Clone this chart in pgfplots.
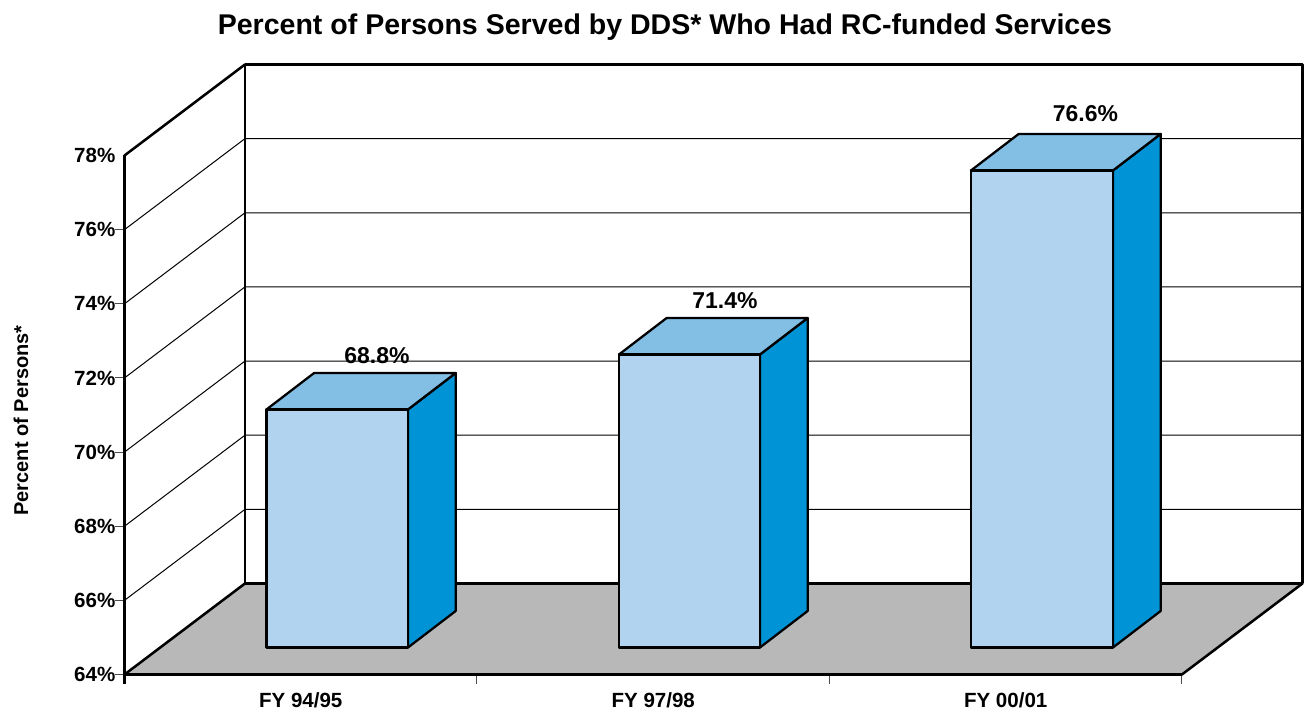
\documentclass[border=0pt]{standalone}
\usepackage{fontspec}
\setmainfont{Liberation Sans}
\usepackage{pgfplots}
\pgfplotsset{compat=1.18}
\definecolor{barfront}{HTML}{B2D3EF}
\definecolor{bartop}{HTML}{83BEE5}
\definecolor{barside}{HTML}{0094D6}
\definecolor{floorgray}{HTML}{B8B8B8}
\newcommand{\lab}[1]{\fontsize{#1}{#1}\selectfont\bfseries}
\begin{document}
\begin{tikzpicture}
\begin{axis}[
  scale only axis,
  width=793.1pt,
  height=389.25pt,
  xmin=0,xmax=3,
  ymin=64,ymax=78,
  clip=false,
  axis x line*=bottom,
  axis y line*=left,
  axis line style={line width=1.8pt},
  tick align=outside,
  major tick length=7pt,
  tick style={line width=0.75pt,color=black!70},
  xtick={0,1,2,3},
  xticklabels={},
  extra x ticks={0.5,1.5,2.5},
  extra x tick labels={FY 94/95,FY 97/98,FY 00/01},
  extra x tick style={major tick length=0pt,tick label style={font=\lab{15.4},yshift=-10pt}},
  ytick={64,66,68,70,72,74,76},
  yticklabels={64\%,66\%,68\%,70\%,72\%,74\%,76\%},
  extra y ticks={78},
  extra y tick labels={78\%},
  extra y tick style={major tick length=7pt,tick style={draw=none}},
  tick label style={font=\lab{15.4}},
  yticklabel style={inner sep=0pt,xshift=0.3pt},
  every axis plot/.append style={line join=round},
]
% back wall and left wall
\addplot[draw=black,line width=1.9pt,fill=white] coordinates {(0.3418,66.455) (0.3418,80.455) (3.3418,80.455) (3.3418,66.455)};
\addplot[draw=black,line width=1.9pt] coordinates {(0,78) (0.3418,80.455)};
% gridlines, left wall then back wall
\addplot[draw=black,line width=0.75pt] coordinates {(0,66) (0.3418,68.455) (3.3418,68.455)};
\addplot[draw=black,line width=0.75pt] coordinates {(0,68) (0.3418,70.455) (3.3418,70.455)};
\addplot[draw=black,line width=0.75pt] coordinates {(0,70) (0.3418,72.455) (3.3418,72.455)};
\addplot[draw=black,line width=0.75pt] coordinates {(0,72) (0.3418,74.455) (3.3418,74.455)};
\addplot[draw=black,line width=0.75pt] coordinates {(0,74) (0.3418,76.455) (3.3418,76.455)};
\addplot[draw=black,line width=0.75pt] coordinates {(0,76) (0.3418,78.455) (3.3418,78.455)};
% floor
\addplot[draw=black,line width=1.9pt,fill=floorgray] coordinates {(0,64) (3,64) (3.3418,66.455) (0.3418,66.455)} --cycle;
% the y axis runs on below the floor corner
\addplot[draw=black,line width=1.8pt] coordinates {(0,64) (0,63.75)};
% bar 1
\addplot[draw=black,line width=1.7pt,fill=barside] coordinates {(0.8043,64.728) (0.9396,65.713) (0.9396,72.134) (0.8043,71.149)} --cycle;
\addplot[draw=black,line width=1.7pt,fill=bartop] coordinates {(0.4028,71.149) (0.5381,72.134) (0.9396,72.134) (0.8043,71.149)} --cycle;
\addplot[draw=black,line width=1.9pt,fill=barfront] coordinates {(0.4028,64.728) (0.8043,64.728) (0.8043,71.149) (0.4028,71.149)} --cycle;
% bar 2
\addplot[draw=black,line width=1.7pt,fill=barside] coordinates {(1.8028,64.728) (1.9381,65.713) (1.9381,73.617) (1.8028,72.632)} --cycle;
\addplot[draw=black,line width=1.7pt,fill=bartop] coordinates {(1.4028,72.632) (1.5381,73.617) (1.9381,73.617) (1.8028,72.632)} --cycle;
\addplot[draw=black,line width=1.9pt,fill=barfront] coordinates {(1.4028,64.728) (1.8028,64.728) (1.8028,72.632) (1.4028,72.632)} --cycle;
% bar 3
\addplot[draw=black,line width=1.7pt,fill=barside] coordinates {(2.8043,64.728) (2.9396,65.713) (2.9396,78.581) (2.8043,77.596)} --cycle;
\addplot[draw=black,line width=1.7pt,fill=bartop] coordinates {(2.4014,77.596) (2.5367,78.581) (2.9396,78.581) (2.8043,77.596)} --cycle;
\addplot[draw=black,line width=1.9pt,fill=barfront] coordinates {(2.4014,64.728) (2.8043,64.728) (2.8043,77.596) (2.4014,77.596)} --cycle;
% value labels
\node[font=\lab{17.2},inner sep=0pt] at (axis cs:0.7163,72.605) {68.8\%};
\node[font=\lab{17.2},inner sep=0pt] at (axis cs:1.7035,74.089) {71.4\%};
\node[font=\lab{17.2},inner sep=0pt] at (axis cs:2.726,79.133) {76.6\%};
% title and y label
\node[font=\lab{21.4},inner sep=0pt] at (axis cs:1.5333,81.467) {Percent of Persons Served by DDS* Who Had RC-funded Services};
\node[font=\lab{15},inner sep=0pt,rotate=90] at (axis cs:-0.2936,70.852) {Percent of Persons*};
\end{axis}
\useasboundingbox (-93.375pt,-25.875pt) rectangle (884.625pt,505.875pt);
\end{tikzpicture}
\end{document}
